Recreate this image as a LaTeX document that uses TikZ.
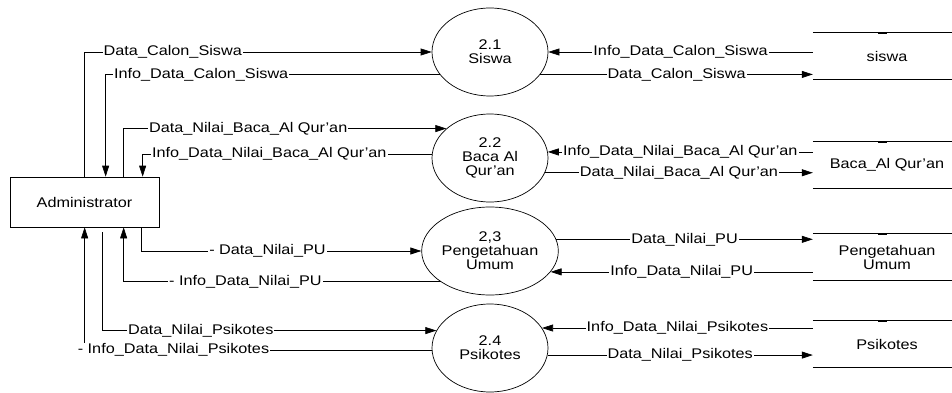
\documentclass[tikz,border=0pt]{standalone}
\usepackage{fontspec}
\setmainfont{Liberation Sans}[FakeStretch=1.16]
\usetikzlibrary{arrows.meta,shapes.geometric}

\tikzstyle{entityNode}=[rectangle,draw,line width=0.7pt,minimum width=149pt,minimum height=50pt]
\tikzstyle{processNode}=[ellipse,draw,line width=0.7pt,minimum width=116pt,minimum height=88pt,inner sep=0pt,align=center]
\tikzstyle{storeNode}=[rectangle,minimum width=148pt,minimum height=46pt,align=center]
\tikzstyle{flowLine}=[-{Triangle[length=11pt,width=7pt]},line width=0.7pt]
\tikzstyle{flowLabel}=[fill=white,inner sep=1pt]

\begin{document}
\begin{tikzpicture}[x=1pt,y=-1pt,font=\fontsize{14}{14}\selectfont]
  \useasboundingbox (0,0) rectangle (952,393);

  \node[entityNode] (admin) at (84.5,202) {Administrator};

  \node[processNode] (p21) at (490,52) {2.1\\Siswa};
  \node[processNode] (p22) at (490,158) {2.2\\Baca Al\\Qur'an};
  \node[processNode] (p23) at (490,251) {2,3\\Pengetahuan\\Umum};
  \node[processNode] (p24) at (490,348) {2.4\\Psikotes};

  \node[storeNode] (siswa) at (887,56) {siswa};
  \node[storeNode] (baca) at (887,165) {Baca\_Al Qur'an};
  \node[storeNode] (pu) at (887,257) {Pengetahuan\\Umum};
  \node[storeNode] (psi) at (887,344) {Psikotes};

  \foreach \s in {siswa,baca,pu,psi}{
    \draw[line width=0.7pt] (\s.north west) -- (\s.north east) (\s.south west) -- (\s.south east);
    \draw[line width=1.6pt] ([xshift=-9pt]\s.north) -- (\s.north);
  }

  % administrator <-> processes
  \draw[flowLine] ([xshift=75pt]admin.north west) |- (p21.180) node[flowLabel,pos=0.627]{Data\_Calon\_Siswa};
  \draw[flowLine] (p21.204) -| ([xshift=96pt]admin.north west) node[flowLabel,pos=0.357]{Info\_Data\_Calon\_Siswa};
  \draw[flowLine] ([xshift=114pt]admin.north west) |- (p22.146) node[flowLabel,pos=0.693]{Data\_Nilai\_Baca\_Al Qur'an};
  \draw[flowLine] (p22.176) -| ([xshift=133pt]admin.north west) node[flowLabel,pos=0.281]{Info\_Data\_Nilai\_Baca\_Al Qur'an};
  \draw[flowLine] ([xshift=132pt]admin.south west) |- (p23.180) node[flowLabel,pos=0.725]{- Data\_Nilai\_PU};
  \draw[flowLine] (p23.212) -| ([xshift=114pt]admin.south west) node[flowLabel,pos=0.308]{- Info\_Data\_Nilai\_PU};
  \draw[flowLine,shorten <=5pt] ([xshift=93pt]admin.south west) |- (p24.162) node[flowLabel,pos=0.647]{Data\_Nilai\_Psikotes};
  \draw[flowLine] (p24.182) -| ([xshift=75pt]admin.south west) node[flowLabel,pos=0.372]{- Info\_Data\_Nilai\_Psikotes};

  % processes <-> data stores
  \draw[flowLine] (siswa.west |- p21.0) -- (p21.0) node[flowLabel,pos=0.5]{Info\_Data\_Calon\_Siswa};
  \draw[flowLine] (p21.336) -- (p21.336 -| siswa.west) node[flowLabel,pos=0.5]{Data\_Calon\_Siswa};
  \draw[flowLine] (baca.west |- p22.6) -- (p22.6) node[flowLabel,pos=0.5]{Info\_Data\_Nilai\_Baca\_Al Qur'an};
  \draw[flowLine] (p22.345) -- (p22.345 -| baca.west) node[flowLabel,pos=0.5]{Data\_Nilai\_Baca\_Al Qur'an};
  \draw[flowLine] (p23.10) -- (p23.10 -| pu.west) node[flowLabel,pos=0.5]{Data\_Nilai\_PU};
  \draw[flowLine] (pu.west |- p23.341) -- (p23.341) node[flowLabel,pos=0.5]{Info\_Data\_Nilai\_PU};
  \draw[flowLine] (psi.west |- p24.21) -- (p24.21) node[flowLabel,pos=0.5]{Info\_Data\_Nilai\_Psikotes};
  \draw[flowLine] (p24.353) -- (p24.353 -| psi.west) node[flowLabel,pos=0.5]{Data\_Nilai\_Psikotes};

\end{tikzpicture}
\end{document}
